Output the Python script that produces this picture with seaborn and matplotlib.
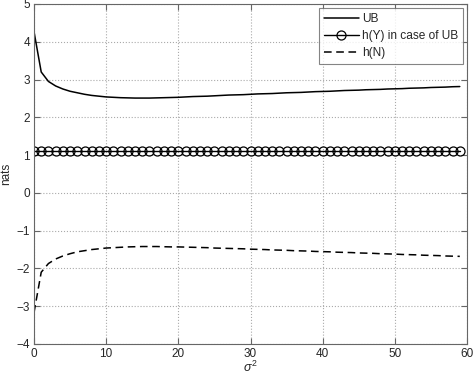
import pandas as pd
import matplotlib
matplotlib.use('Agg')
import matplotlib.pyplot as plt
import seaborn as sns

# sigma^2 grid
sigma2 = list(range(0, 60))

# upper bound
ub = [4.27, 3.20, 2.95, 2.83, 2.75, 2.69, 2.65, 2.61, 2.58, 2.56,
      2.54, 2.53, 2.52, 2.515, 2.51, 2.51, 2.51, 2.515, 2.52, 2.525,
      2.53, 2.54, 2.55, 2.555, 2.56, 2.57, 2.58, 2.59, 2.595, 2.60,
      2.61, 2.62, 2.625, 2.63, 2.64, 2.65, 2.655, 2.66, 2.67, 2.68,
      2.685, 2.69, 2.70, 2.71, 2.715, 2.72, 2.73, 2.735, 2.74, 2.75,
      2.755, 2.76, 2.77, 2.775, 2.78, 2.79, 2.795, 2.80, 2.81, 2.815]

# h(Y) in case of UB (flat)
hy = [1.1] * 60

# h(N)
hn = [-3.17, -2.10, -1.87, -1.75, -1.67, -1.61, -1.56, -1.53, -1.50, -1.48,
      -1.46, -1.45, -1.44, -1.43, -1.425, -1.42, -1.42, -1.42, -1.425, -1.43,
      -1.43, -1.435, -1.44, -1.445, -1.45, -1.46, -1.465, -1.47, -1.475, -1.48,
      -1.49, -1.495, -1.50, -1.51, -1.515, -1.52, -1.53, -1.535, -1.54, -1.55,
      -1.555, -1.56, -1.57, -1.575, -1.58, -1.59, -1.595, -1.60, -1.61, -1.615,
      -1.62, -1.63, -1.635, -1.64, -1.65, -1.655, -1.66, -1.67, -1.675, -1.68]

labels = ['UB', 'h(Y) in case of UB', 'h(N)']
yticks = list(range(-4, 6))
ytick_labels = ['\u22124', '\u22123', '\u22122', '\u22121', '0', '1', '2', '3', '4', '5']

df = pd.DataFrame({'sigma2': sigma2, 'ub': ub, 'hy': hy, 'hn': hn})

sns.set_style('ticks')
plt.rcParams['font.family'] = ['Liberation Sans', 'DejaVu Sans']
plt.rcParams['mathtext.fontset'] = 'custom'
plt.rcParams['mathtext.it'] = 'Liberation Sans:italic'
plt.rcParams['mathtext.rm'] = 'Liberation Sans'

fig = plt.figure(figsize=(4.74, 3.76), dpi=100)
ax = fig.add_axes([34 / 474, 1 - 344 / 376, 433 / 474, 340 / 376])

sns.lineplot(data=df, x='sigma2', y='ub', color='black', linewidth=1.1,
             label=labels[0], ax=ax)
sns.lineplot(data=df, x='sigma2', y='hy', color='black', linewidth=1.0,
             marker='o', markersize=6.5, markerfacecolor='none',
             markeredgecolor='black', markeredgewidth=0.9,
             label=labels[1], ax=ax)
sns.lineplot(data=df, x='sigma2', y='hn', color='black', linewidth=1.1,
             linestyle=(0, (5, 3)), label=labels[2], ax=ax)

ax.set_xlim(0, 60)
ax.set_ylim(-4, 5)
ax.set_xticks(range(0, 61, 10))
ax.set_yticks(yticks)
ax.set_yticklabels(ytick_labels)
ax.tick_params(direction='in', top=True, right=True, labelsize=8.5, length=4,
               color='#666666', pad=3)
ax.grid(True, linestyle=':', color='#aaaaaa', linewidth=0.8)
for s in ax.spines.values():
    s.set_color('#666666')
    s.set_linewidth(0.8)
ax.set_xlabel(r'$\sigma^2$', fontsize=9, labelpad=0)
ax.set_ylabel('nats', fontsize=8.5, labelpad=3)

leg = ax.legend(loc='upper right', fontsize=8.6, frameon=True, fancybox=False,
                edgecolor='#666666', borderpad=0.45, labelspacing=0.42,
                handlelength=2.9, handletextpad=0.25, borderaxespad=0.3)
leg.get_frame().set_linewidth(0.8)

plt.savefig('out.png', dpi=100)
